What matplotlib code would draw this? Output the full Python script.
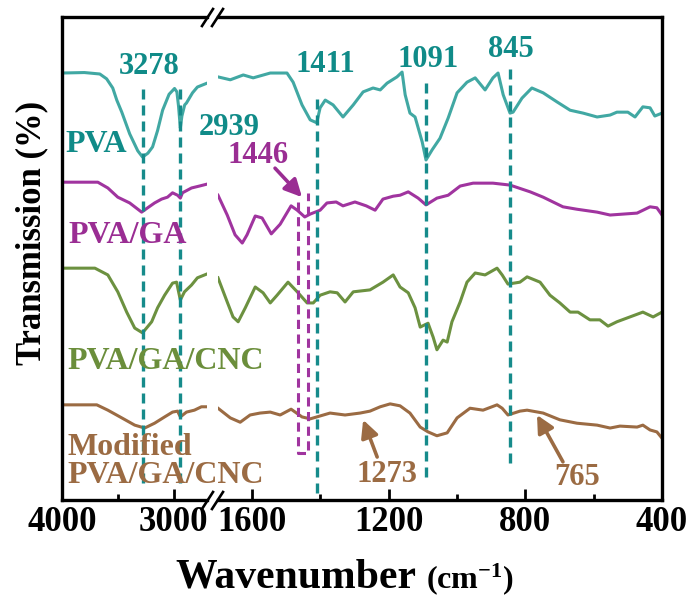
import numpy as np
import matplotlib
matplotlib.use("Agg")
import matplotlib.pyplot as plt
from matplotlib.lines import Line2D

plt.rcParams['font.family'] = 'Liberation Serif'
plt.rcParams['font.weight'] = 'bold'
plt.rcParams['mathtext.fontset'] = 'custom'
plt.rcParams['mathtext.rm'] = 'Liberation Serif:bold'
plt.rcParams['mathtext.default'] = 'rm'

# FTIR spectra (wavenumber in cm-1, stacked transmission)
pva_wn = [4000, 3800, 3661, 3600, 3545, 3509, 3464, 3393, 3321, 3278, 3230, 3188, 3143, 3098, 3040,
          2991, 2970, 2955, 2939, 2925, 2900, 2884, 2830, 2786, 2700,
          1700, 1664, 1626, 1597, 1547, 1498, 1480, 1454, 1430, 1411, 1401, 1386, 1363, 1334, 1304,
          1275, 1246, 1225, 1205, 1176, 1161, 1152, 1138, 1123, 1102, 1091, 1073, 1050, 1026, 1000,
          971, 947, 918, 895, 880, 865, 845, 836, 810, 781, 748, 707, 669, 631, 590, 552, 532, 500,
          479, 456, 435, 421, 400]
pva_t = [88.4, 88.5, 88.2, 87.2, 85.3, 82.8, 80.3, 75.8, 72.3, 71.0, 71.8, 73.1, 76.5, 80.7, 84.0,
         85.2, 84.5, 81.5, 77.0, 79.5, 81.8, 82.2, 84.3, 85.5, 86.3,
         87.6, 87.0, 88.0, 87.4, 88.4, 88.4, 86.5, 81.8, 78.7, 78.1, 81.2, 82.8, 81.8, 79.3, 81.8,
         84.5, 85.3, 84.9, 86.3, 87.6, 88.6, 83.9, 80.1, 79.3, 74.1, 70.4, 72.5, 74.9, 79.1, 84.3,
         86.5, 87.4, 84.9, 87.4, 88.4, 83.9, 80.1, 80.3, 83.2, 85.3, 84.3, 82.4, 80.7, 80.1, 79.3, 79.7, 80.3, 80.3,
         79.3, 81.4, 81.2, 79.5, 80.1]

ga_wn = [4000, 3679, 3589, 3500, 3393, 3286, 3232, 3170, 3107, 3054, 3009, 2964, 2939, 2920, 2839, 2768, 2700,
         1700, 1673, 1650, 1629, 1615, 1591, 1571, 1544, 1518, 1486, 1468, 1446, 1430, 1401, 1381, 1354,
         1334, 1299, 1266, 1240, 1217, 1187, 1167, 1143, 1114, 1091, 1059, 1026, 991, 953, 895, 845,
         786, 748, 690, 649, 590, 552, 473, 435, 415, 400]
ga_t = [65.8, 65.8, 64.6, 62.7, 61.5, 59.6, 60.5, 61.5, 62.3, 62.7, 63.6, 63.1, 62.5, 63.6, 64.6, 65.0, 65.4,
        63.1, 59.0, 54.9, 53.2, 54.9, 58.8, 58.4, 55.1, 57.1, 60.9, 60.0, 58.6, 59.2, 60.0, 61.5, 61.7,
        60.9, 61.7, 60.9, 60.0, 62.3, 62.9, 63.1, 63.8, 62.5, 61.1, 62.5, 63.1, 65.0, 65.6, 65.6, 65.2,
        63.8, 62.7, 60.7, 60.2, 59.6, 59.0, 59.4, 60.7, 60.5, 59.0]

cnc_wn = [4000, 3705, 3589, 3500, 3420, 3348, 3278, 3196, 3143, 3080, 3009, 2973, 2939, 2902, 2839, 2786, 2700,
          1700, 1673, 1656, 1641, 1620, 1591, 1568, 1547, 1527, 1495, 1468, 1439, 1421, 1401, 1372,
          1351, 1328, 1304, 1255, 1217, 1187, 1167, 1143, 1123, 1108, 1085, 1070, 1059, 1041, 1029,
          1015, 991, 971, 947, 918, 883, 868, 851, 816, 795, 757, 728, 699, 669, 646, 611, 582, 558,
          532, 494, 456, 426, 400]
cnc_t = [48.0, 48.0, 46.6, 43.1, 38.9, 35.6, 34.6, 36.9, 39.8, 42.4, 44.9, 45.1, 41.4, 43.1, 44.5, 46.0, 46.8,
         46.0, 41.0, 37.9, 36.9, 39.8, 44.1, 42.9, 40.8, 42.4, 45.1, 43.1, 40.8, 40.8, 42.4, 43.1,
         42.9, 41.0, 43.1, 43.5, 45.1, 46.6, 44.1, 42.9, 39.8, 35.8, 36.6, 33.7, 31.1, 33.1, 32.7,
         36.9, 41.0, 45.1, 47.0, 46.6, 48.0, 46.6, 44.7, 45.1, 46.2, 45.1, 42.4, 40.8, 38.9, 38.9, 37.3, 37.3, 36.0,
         36.9, 37.9, 38.9, 37.9, 38.9]

mod_wn = [4000, 3688, 3589, 3464, 3348, 3259, 3170, 3080, 3009, 2964, 2939, 2884, 2813, 2750, 2700,
          1700, 1664, 1635, 1606, 1577, 1547, 1518, 1486, 1454, 1430, 1401, 1372, 1328, 1284, 1255,
          1225, 1196, 1167, 1138, 1108, 1085, 1059, 1029, 1000, 962, 924, 883, 868, 851, 816, 795,
          748, 699, 649, 590, 552, 523, 473, 456, 435, 415, 400]
mod_t = [19.7, 19.7, 18.6, 17.0, 15.5, 14.9, 15.9, 17.2, 18.2, 18.4, 17.2, 18.2, 18.6, 19.3, 19.3,
         19.0, 17.0, 16.1, 17.6, 18.0, 18.2, 17.6, 18.8, 17.2, 16.8, 17.4, 18.0, 17.6, 18.0, 18.4,
         19.3, 19.9, 19.5, 18.0, 15.1, 14.1, 13.3, 13.9, 17.0, 19.0, 18.6, 19.7, 19.0, 17.6, 18.4, 18.6,
         18.0, 16.6, 15.9, 15.5, 14.9, 15.3, 15.1, 15.5, 14.5, 14.1, 12.8]

series = [(pva_wn, pva_t, '#41a8a3'),
          (ga_wn, ga_t, '#a0349f'),
          (cnc_wn, cnc_t, '#6c9140'),
          (mod_wn, mod_t, '#9b6b43')]

# marked bands: position, top, bottom of the guide line
peak_wn = [3278, 2939, 1411, 1091, 845]
peak_top = [85.9, 85.9, 83.9, 87.0, 90.5]
peak_bot = [3.5, 3.5, 1.4, 4.8, 7.7]
peak_lbl = ['3278', '2939', '1411', '1091', '845']
lbl_wn = [3220, 2502, 1387, 1085, 842]
lbl_y = [88.2, 75.6, 88.6, 89.6, 91.7]

# 1446 bracket
br_wn = [1465, 1465, 1437, 1437]
br_t = [61.7, 9.7, 9.7, 63.6]

teal_txt = '#108b88'
teal_dash = '#168b8b'
purple_txt = '#9a2d93'
green_txt = '#6b8e3b'
brown_txt = '#9b6b43'

W, H = 695, 597
fig = plt.figure(figsize=(W / 100, H / 100), dpi=100)
bot = 97 / H
hgt = 483 / H
axL = fig.add_axes([62 / W, bot, 145 / W, hgt])
axR = fig.add_axes([218 / W, bot, 444 / W, hgt])

axL.set_xlim(4000, 2700)
axR.set_xlim(1700, 400)
for ax in (axL, axR):
    ax.patch.set_visible(False)
    ax.set_ylim(0, 100)
    ax.tick_params(axis='y', left=False, right=False, labelleft=False)
    ax.tick_params(axis='x', which='both', direction='in', top=False, width=2, pad=4, labelsize=25)
    ax.tick_params(axis='x', which='major', length=8)
    ax.tick_params(axis='x', which='minor', length=4)
    for s in ax.spines.values():
        s.set_linewidth(2.4)
axL.spines['right'].set_visible(False)
axR.spines['left'].set_visible(False)
axL.set_xticks([4000, 3000])
axL.set_xticks([3500], minor=True)
axR.set_xticks([1600, 1200, 800, 400])
axR.set_xticks([1400, 1000, 600], minor=True)

# spectra split across the break
for wn, t, c in series:
    wn = np.array(wn)
    t = np.array(t)
    hi = wn > 2000
    axL.plot(wn[hi], t[hi], color=c, lw=2.2, solid_joinstyle='round')
    axR.plot(wn[~hi], t[~hi], color=c, lw=2.2, solid_joinstyle='round')

dash = (0, (3, 1.8))
for w, t0, b0 in zip(peak_wn, peak_top, peak_bot):
    ax = axL if w > 2000 else axR
    ax.plot([w, w], [b0, t0], color=teal_dash, lw=2.4, ls=dash)
axR.plot(br_wn, br_t, color='#a0349f', lw=2.2, ls=dash)

fs = 22
fs_name = 23
for w, y, s in zip(lbl_wn, lbl_y, peak_lbl):
    ax = axL if w > 2000 else axR
    ax.text(w, y, s, color=teal_txt, fontsize=fs, ha='center', va='baseline', clip_on=False)

axL.text(3973, 72.0, 'PVA', color=teal_txt, fontsize=fs_name, va='baseline')
axL.text(3946, 53.2, 'PVA/GA', color=purple_txt, fontsize=fs_name, va='baseline', clip_on=False)
axL.text(3955, 27.1, 'PVA/GA/CNC', color=green_txt, fontsize=fs_name, va='baseline', clip_on=False)
axL.text(3955, 9.3, 'Modified', color=brown_txt, fontsize=fs_name, va='baseline', clip_on=False)
axL.text(3955, 3.5, 'PVA/GA/CNC', color=brown_txt, fontsize=fs_name, va='baseline', clip_on=False)

arrow_kw = dict(arrowstyle='-|>', lw=2.6, mutation_scale=26, shrinkA=0, shrinkB=0)
axR.annotate('', xy=(1454, 62.7), xytext=(1533, 68.7),
             arrowprops=dict(color=purple_txt, **arrow_kw))
axR.text(1583, 69.8, '1446', color=purple_txt, fontsize=fs, ha='center', va='baseline')
axR.annotate('', xy=(1275, 16.6), xytext=(1234, 8.9),
             arrowprops=dict(color=brown_txt, **arrow_kw))
axR.text(1205, 3.7, '1273', color=brown_txt, fontsize=fs, ha='center', va='baseline')
axR.annotate('', xy=(766, 17.6), xytext=(690, 7.9),
             arrowprops=dict(color=brown_txt, **arrow_kw))
axR.text(649, 3.1, '765', color=brown_txt, fontsize=fs, ha='center', va='baseline')

# axis break marks
for yb in (17, 500):
    for x0 in (202, 212):
        fig.add_artist(Line2D([x0 / W, (x0 + 11) / W], [1 - (yb + 9) / H, 1 - (yb - 8) / H],
                              color='black', lw=1.9))

fig.text(32 / W, 1 - 233 / H, 'Transmission (%)', rotation=90, ha='center', va='center', fontsize=25)
fig.text(175 / W, 1 - 588 / H, 'Wavenumber', ha='left', va='baseline', fontsize=30)
fig.text(426 / W, 1 - 588 / H, r'(cm$^{-1}$)', ha='left', va='baseline', fontsize=23)

fig.savefig('out.png', dpi=100)
